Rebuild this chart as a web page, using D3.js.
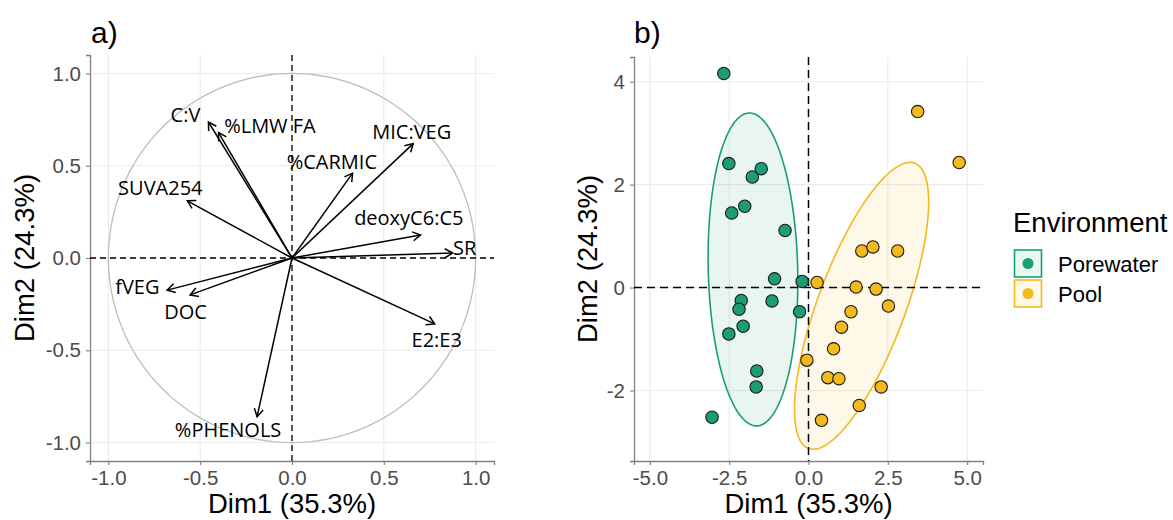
<!DOCTYPE html>
<html>
<head>
<meta charset="utf-8">
<script src="https://cdn.jsdelivr.net/npm/d3@7"></script>
<style>
  body{margin:0;background:#fff}
  svg{display:block}
</style>
</head>
<body>
<svg id="chart" width="1173" height="520"></svg>
<script>
// panel a: variable loadings (Dim1, Dim2) and where the label sits
const varNames=['C:V','%LMW FA','%CARMIC','MIC:VEG','SUVA254','deoxyC6:C5','SR','fVEG','DOC','E2:E3','%PHENOLS']
const varDim1=[-0.455,-0.40,0.33,0.66,-0.57,0.70,0.875,-0.68,-0.555,0.777,-0.19]
const varDim2=[0.737,0.68,0.46,0.62,0.31,0.125,0.027,-0.174,-0.20,-0.357,-0.86]
const labDim1=[-0.58,-0.12,0.217,0.652,-0.717,0.636,0.94,-0.842,-0.58,0.788,-0.348]
const labDim2=[0.775,0.715,0.52,0.683,0.379,0.217,0.054,-0.157,-0.293,-0.444,-0.932]

// panel b: individuals
const poreDim1=[-2.67,-2.51,-1.77,-1.49,-2.42,-2.01,-0.74,-1.07,-0.20,-2.12,-2.19,-1.15,-0.28,-2.06,-2.51,-1.63,-1.65,-3.04]
const poreDim2=[4.16,2.41,2.15,2.31,1.45,1.58,1.11,0.17,0.12,-0.25,-0.42,-0.26,-0.47,-0.75,-0.90,-1.62,-1.93,-2.52]
const poolDim1=[3.44,4.75,1.68,2.03,2.81,0.27,1.50,2.13,2.52,1.34,1.04,0.79,-0.05,0.61,0.96,2.29,1.60,0.41]
const poolDim2=[3.42,2.43,0.71,0.79,0.71,0.10,0.01,-0.03,-0.36,-0.47,-0.77,-1.19,-1.41,-1.75,-1.77,-1.93,-2.29,-2.58]
const groups=['Porewater','Pool']
const groupColors=['#1B9E77','#F2BA1D']

const ticksA=[-1,-0.5,0,0.5,1]
const ticksBx=[-5,-2.5,0,2.5,5]
const ticksBy=[-2,0,2,4]

const svg=d3.select('#chart')
const axisFont='"Liberation Sans", Arial, sans-serif'
const gridColor='#EBEBEB'
const axisColor='#808080'
const hyphen=f=>d=>f(d).replace('\u2212','-')

function panel(xs,ys,xt,yt,fmtX,fmtY,tag,tagX,titleGap){
  const g=svg.append('g')
  const [x0,x1]=xs.range(),[y0,y1]=ys.range()
  g.selectAll('.gx').data(xt).join('line')
    .attr('x1',d=>xs(d)).attr('x2',d=>xs(d)).attr('y1',y1).attr('y2',y0)
    .attr('stroke',gridColor).attr('stroke-width',1.1)
  g.selectAll('.gy').data(yt).join('line')
    .attr('y1',d=>ys(d)).attr('y2',d=>ys(d)).attr('x1',x0).attr('x2',x1)
    .attr('stroke',gridColor).attr('stroke-width',1.1)
  const ax=g.append('g').attr('transform',`translate(0,${y0})`)
    .call(d3.axisBottom(xs).tickValues(xt).tickFormat(hyphen(fmtX)).tickSize(4).tickPadding(5))
  const ay=g.append('g').attr('transform',`translate(${x0},0)`)
    .call(d3.axisLeft(ys).tickValues(yt).tickFormat(hyphen(fmtY)).tickSize(4).tickPadding(5))
  ;[ax,ay].forEach(a=>{
    a.select('.domain').attr('stroke',axisColor).attr('stroke-width',1.3)
    a.selectAll('.tick line').attr('stroke',axisColor).attr('stroke-width',1.1)
    a.selectAll('.tick text').attr('fill','#4D4D4D').style('font-family',axisFont).style('font-size','20.5px')
  })
  g.append('text').attr('x',tagX).attr('y',43).text(tag)
    .style('font-family',axisFont).style('font-size','30px').attr('fill','#000')
  g.append('text').attr('x',(x0+x1)/2).attr('y',513).attr('text-anchor','middle')
    .text('Dim1 (35.3%)').style('font-family',axisFont).style('font-size','27.5px')
  g.append('text').attr('transform',`translate(${x0-titleGap},${(y0+y1)/2}) rotate(-90)`)
    .attr('text-anchor','middle').text('Dim2 (24.3%)')
    .style('font-family',axisFont).style('font-size','27.5px')
  return g
}

// ---------- panel a ----------
const xa=d3.scaleLinear().domain([-1.1,1.1]).range([90,494])
const ya=d3.scaleLinear().domain([-1.1,1.1]).range([461,55])
const ga=panel(xa,ya,ticksA,ticksA,d3.format('.1f'),d3.format('.1f'),'a)',91,56)

const circle=d3.range(0,361,2).map(a=>[Math.cos(a*Math.PI/180),Math.sin(a*Math.PI/180)])
ga.append('path').datum(circle)
  .attr('d',d3.line().x(d=>xa(d[0])).y(d=>ya(d[1])))
  .attr('fill','none').attr('stroke','#BDBDBD').attr('stroke-width',1.3)
ga.append('line').attr('x1',xa(0)).attr('x2',xa(0)).attr('y1',ya(1.1)).attr('y2',ya(-1.1))
  .attr('stroke','#000').attr('stroke-dasharray','6,4').attr('stroke-width',1.3)
ga.append('line').attr('y1',ya(0)).attr('y2',ya(0)).attr('x1',xa(-1.1)).attr('x2',xa(1.1))
  .attr('stroke','#000').attr('stroke-dasharray','6,4').attr('stroke-width',1.3)

const vars=varNames.map((n,i)=>({n,x:varDim1[i],y:varDim2[i],lx:labDim1[i],ly:labDim2[i]}))
vars.forEach(v=>{
  const x1=xa(v.x),y1=ya(v.y),x0=xa(0),y0=ya(0)
  const ang=Math.atan2(y1-y0,x1-x0),L=9,spread=Math.PI/6
  const head=[[x1-L*Math.cos(ang-spread),y1-L*Math.sin(ang-spread)],[x1,y1],[x1-L*Math.cos(ang+spread),y1-L*Math.sin(ang+spread)]]
  ga.append('line').attr('x1',x0).attr('y1',y0).attr('x2',x1).attr('y2',y1)
    .attr('stroke','#000').attr('stroke-width',1.5)
  ga.append('path').attr('d',d3.line()(head)).attr('fill','none')
    .attr('stroke','#000').attr('stroke-width',1.5)
  ga.append('text').attr('x',xa(v.lx)).attr('y',ya(v.ly)).attr('dy','0.35em')
    .attr('text-anchor','middle').text(v.n)
    .style('font-family','"Open Sans", sans-serif').style('font-size','20px')
})

// ---------- panel b ----------
const xb=d3.scaleLinear().domain([-5.5,5.5]).range([634,983])
const yb=d3.scaleLinear().domain([-3.37,4.48]).range([461,57])
const gb=panel(xb,yb,ticksBx,ticksBy,d3.format('.1f'),d3.format('d'),'b)',634,37)

const ellipseRadius=1.75
const sets=[[poreDim1,poreDim2],[poolDim1,poolDim2]]
sets.forEach(([xs,ys],k)=>{
  const mx=d3.mean(xs),my=d3.mean(ys)
  const sxx=d3.variance(xs),syy=d3.variance(ys)
  const sxy=d3.sum(xs,(v,i)=>(v-mx)*(ys[i]-my))/(xs.length-1)
  // cholesky of covariance
  const a=Math.sqrt(sxx),b=sxy/a,c=Math.sqrt(syy-b*b)
  const pts=d3.range(0,361,3).map(t=>{
    const u=Math.cos(t*Math.PI/180)*ellipseRadius,w=Math.sin(t*Math.PI/180)*ellipseRadius
    return [mx+a*u,my+b*u+c*w]
  })
  gb.append('path').datum(pts)
    .attr('d',d3.line().x(d=>xb(d[0])).y(d=>yb(d[1])))
    .attr('fill',groupColors[k]).attr('fill-opacity',0.1)
    .attr('stroke',groupColors[k]).attr('stroke-width',1.6)
})
gb.append('line').attr('x1',xb(0)).attr('x2',xb(0)).attr('y1',yb(4.48)).attr('y2',yb(-3.37))
  .attr('stroke','#000').attr('stroke-dasharray','8,5').attr('stroke-width',1.5)
gb.append('line').attr('y1',yb(0)).attr('y2',yb(0)).attr('x1',xb(-5.5)).attr('x2',xb(5.5))
  .attr('stroke','#000').attr('stroke-dasharray','8,5').attr('stroke-width',1.5)
sets.forEach(([xs,ys],k)=>{
  gb.selectAll(null).data(xs.map((v,i)=>[v,ys[i]])).join('circle')
    .attr('cx',d=>xb(d[0])).attr('cy',d=>yb(d[1])).attr('r',6.2)
    .attr('fill',groupColors[k]).attr('stroke','#1a1a1a').attr('stroke-width',1.1)
})

// legend
const lg=svg.append('g').attr('transform','translate(1013,0)')
lg.append('text').attr('x',0).attr('y',232).text('Environment')
  .style('font-family',axisFont).style('font-size','27.5px')
groups.forEach((gname,i)=>{
  const y=250+i*30
  lg.append('rect').attr('x',1.5).attr('y',y).attr('width',27).attr('height',27)
    .attr('fill',groupColors[i]).attr('fill-opacity',0.1)
    .attr('stroke',groupColors[i]).attr('stroke-width',1.6)
  lg.append('circle').attr('cx',15).attr('cy',y+13.5).attr('r',5.5).attr('fill',groupColors[i])
  lg.append('text').attr('x',45).attr('y',y+14).attr('dy','0.35em').text(gname)
    .style('font-family',axisFont).style('font-size','22px')
})
</script>
</body>
</html>
